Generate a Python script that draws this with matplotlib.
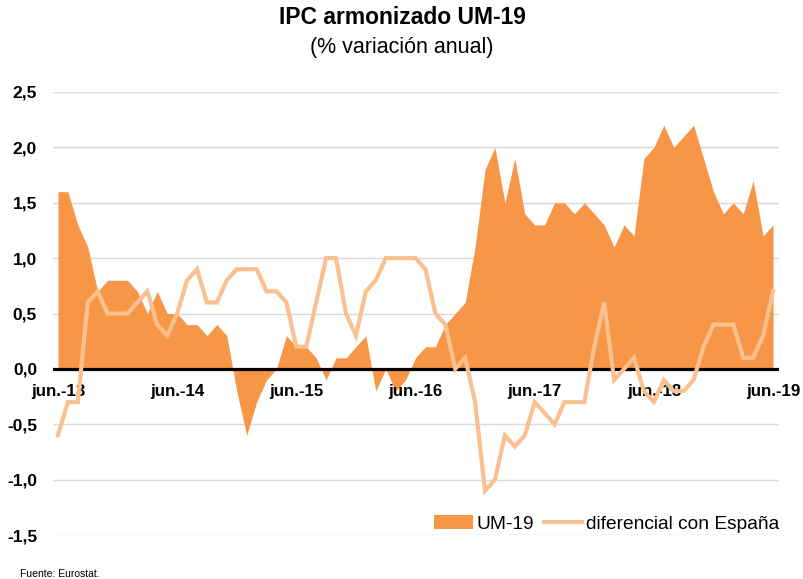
import numpy as np
import matplotlib
matplotlib.use("Agg")
import matplotlib.pyplot as plt

plt.rcParams['font.family'] = ['Liberation Sans', 'DejaVu Sans']

# monthly data, jun-2013 .. jun-2019
um19 = [1.6, 1.6, 1.3, 1.1, 0.7, 0.8, 0.8,
        0.8, 0.7, 0.5, 0.7, 0.5, 0.5, 0.4, 0.4, 0.3, 0.4, 0.3, -0.2,
        -0.6, -0.3, -0.1, 0.0, 0.3, 0.2, 0.2, 0.1, -0.1, 0.1, 0.1, 0.2,
        0.3, -0.2, 0.0, -0.2, -0.1, 0.1, 0.2, 0.2, 0.4, 0.5, 0.6, 1.1,
        1.8, 2.0, 1.5, 1.9, 1.4, 1.3, 1.3, 1.5, 1.5, 1.4, 1.5, 1.4,
        1.3, 1.1, 1.3, 1.2, 1.9, 2.0, 2.2, 2.0, 2.1, 2.2, 1.9, 1.6,
        1.4, 1.5, 1.4, 1.7, 1.2, 1.3]

diferencial = [-0.6, -0.3, -0.3, 0.6, 0.7, 0.5, 0.5,
               0.5, 0.6, 0.7, 0.4, 0.3, 0.5, 0.8, 0.9, 0.6, 0.6, 0.8, 0.9,
               0.9, 0.9, 0.7, 0.7, 0.6, 0.2, 0.2, 0.6, 1.0, 1.0, 0.5, 0.3,
               0.7, 0.8, 1.0, 1.0, 1.0, 1.0, 0.9, 0.5, 0.4, 0.0, 0.1, -0.3,
               -1.1, -1.0, -0.6, -0.7, -0.6, -0.3, -0.4, -0.5, -0.3, -0.3, -0.3, 0.2,
               0.6, -0.1, 0.0, 0.1, -0.2, -0.3, -0.1, -0.2, -0.2, -0.1, 0.2, 0.4,
               0.4, 0.4, 0.1, 0.1, 0.3, 0.7]

x_labels = ['jun.-13', 'jun.-14', 'jun.-15', 'jun.-16', 'jun.-17', 'jun.-18', 'jun.-19']
y_ticks = [-1.5, -1.0, -0.5, 0.0, 0.5, 1.0, 1.5, 2.0, 2.5]

x = np.arange(len(um19))

fig = plt.figure(figsize=(8.04, 5.79), dpi=100)
ax = fig.add_axes([53/804, 44/579, 726/804, 443/579])

ax.fill_between(x, 0, um19, color='#F79646', linewidth=0, label='UM-19', zorder=2)
ax.plot(x, diferencial, color='#FAC08F', lw=3, label='diferencial con España',
        zorder=5, solid_joinstyle='miter')
ax.axhline(0, color='black', lw=2.3, zorder=4)

ax.set_xlim(-0.5, 72.6)
ax.set_ylim(-1.5, 2.5)
ax.set_yticks(y_ticks)
ax.set_yticklabels(['{:.1f}'.format(v).replace('.', ',') for v in y_ticks],
                   fontsize=12.5, fontweight='bold')
ax.yaxis.grid(True, color='#d9d9d9', lw=1)
ax.set_axisbelow(True)
ax.tick_params(axis='y', length=0, pad=11.5)
ax.set_xticks([])
for s in ax.spines.values():
    s.set_visible(False)

for i, lab in enumerate(x_labels):
    ax.annotate(lab, (i * 12, 0), xytext=(0, -16.5), textcoords='offset points',
                ha='center', va='center', fontsize=12.2, fontweight='bold', zorder=3)

leg = ax.legend(loc='center right', bbox_to_anchor=(1.0, 0.025), ncol=2, frameon=False,
                fontsize=13.8, handlelength=2.0, handletextpad=0.2, columnspacing=0.5,
                borderaxespad=0, borderpad=0)

fig.text(0.5, 1 - 18/579, 'IPC armonizado UM-19', ha='center', va='center',
         fontsize=16.5, fontweight='bold')
fig.text(0.5, 1 - 48/579, '(% variación anual)', ha='center', va='center', fontsize=15.5)
fig.text(20/804, 1 - 574/579, 'Fuente: Eurostat.', ha='left', va='center', fontsize=7.5)

fig.savefig('out.png', dpi=100)
